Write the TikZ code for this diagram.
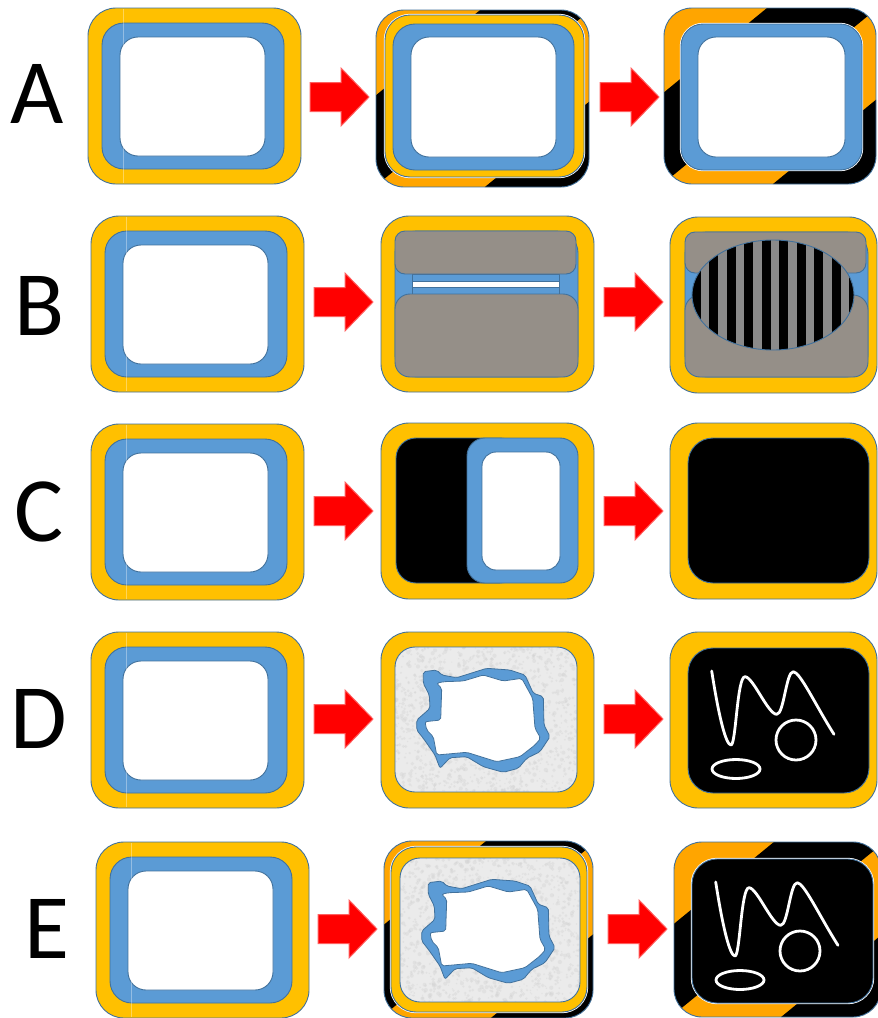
\documentclass[tikz,border=0pt]{standalone}
\usepackage{fontspec}
\setmainfont{Carlito}
\definecolor{yel}{HTML}{FFC000}
\definecolor{blu}{HTML}{5B9BD5}
\definecolor{outc}{HTML}{41719C}
\definecolor{orng}{HTML}{FFA500}
\definecolor{slab}{HTML}{958F88}
\definecolor{stripg}{HTML}{8A8A8A}
\definecolor{texg}{HTML}{EBEBEB}
\definecolor{arrr}{HTML}{FF0000}
\definecolor{arro}{HTML}{FF6060}
\tikzset{
  outl/.style={draw=outc, line width=0.9pt},
  ybox/.style={outl, fill=yel, rounded corners=28pt},
  bbox/.style={outl, fill=blu, rounded corners=22pt},
  wbox/.style={outl, fill=white, rounded corners=18pt},
  glow/.style={preaction={draw=white, line width=2.4pt}},
  seam/.style={draw=white, opacity=0.35, line width=0.8pt},
  slabst/.style={outl, fill=slab},
  arrst/.style={fill=arrr, draw=arro, line width=1pt},
  wline/.style={draw=white, line width=2.8pt, line cap=round, line join=round},
  letter/.style={font=\fontsize{92}{92}\selectfont, inner sep=0pt, anchor=center},
}
\newcommand\leftbox[2]{%
  \draw[ybox] (#1,#2) rectangle (#1+213,#2+176);
  \draw[bbox] (#1+14,#2+15) rectangle (#1+196,#2+161);
  \draw[wbox] (#1+32,#2+29) rectangle (#1+177,#2+148);
  \draw[seam] (#1+35,#2+1) -- (#1+35,#2+175);
}
\newcommand\rarrow[2]{%
  \filldraw[arrst] (#1,#2-14.5) -- (#1+31,#2-14.5) -- (#1+31,#2-29) -- (#1+59,#2)
    -- (#1+31,#2+29) -- (#1+31,#2+14.5) -- (#1,#2+14.5) -- cycle;
}
\newcommand\stripebox[4]{%
  \begin{scope}
    \clip[rounded corners=28pt] (#1,#2) rectangle (#3,#4);
    \fill[orng] (#1,#2) rectangle (#3,#4);
    \begin{scope}[shift={({(#1+#3)/2},{(#2+#4)/2})}, rotate=39.3]
      \fill[black] (-320,-70) rectangle (320,0);
      \fill[black] (-320,70) rectangle (320,140);
      \fill[black] (-320,-210) rectangle (320,-140);
    \end{scope}
  \end{scope}
  \draw[outl, rounded corners=28pt] (#1,#2) rectangle (#3,#4);
}
\newcommand\texbox[4]{%
  \begin{scope}
    \clip[rounded corners=20pt] (#1,#2) rectangle (#3,#4);
    \fill[texg] (#1,#2) rectangle (#3,#4);
    \foreach \i in {1,...,1400}{%
      \pgfmathsetmacro\px{#1+(#3-#1)*rnd}%
      \pgfmathsetmacro\py{#2+(#4-#2)*rnd}%
      \pgfmathsetmacro\pr{0.6+1.6*rnd}%
      \fill[black!18, opacity=0.35] (\px,\py) circle[radius=\pr pt];
    }
  \end{scope}
  \draw[outl, rounded corners=20pt] (#1,#2) rectangle (#3,#4);
}
\newcommand\blob[2]{%
  \begin{scope}[shift={(#1,#2)}]
    \filldraw[fill=blu, draw=outc, line width=0.8pt, rounded corners=2pt]
      (28.3,24.7) -- (41.7,23) -- (46.7,28) -- (61.7,30.7) -- (91.7,21.3) -- (115,23)
      -- (130,28) -- (138.3,46.3) -- (148.3,49.7) -- (149,78) -- (155,89.7) -- (145,104.7)
      -- (131.7,111.3) -- (123.3,121.3) -- (108.3,125.3) -- (88.3,119.7) -- (71.7,109.7)
      -- (55,110.7) -- (45,121.3) -- (40,108) -- (28.3,91.3) -- (21.7,83) -- (21.7,73)
      -- (28.3,67.3) -- (35,61.3) -- (34.3,48) -- (28.3,36.3) -- cycle;
    \filldraw[fill=white, draw=outc, line width=0.8pt, rounded corners=2pt]
      (41.7,36.3) -- (46.7,41.3) -- (45.7,73) -- (30,74.7) -- (31.7,83) -- (38.3,89.7)
      -- (41.7,108) -- (71.7,105.3) -- (101.7,114.7) -- (125,109.7) -- (140,98)
      -- (145.7,91.3) -- (140,81.3) -- (137.7,51.3) -- (126.7,31.3) -- (108.3,34)
      -- (88.3,28) -- (68.3,34) -- (48.3,34.7) -- cycle;
  \end{scope}
}
\newcommand\squig[2]{%
  \begin{scope}[shift={(#1,#2)}]
    \draw[wline] (23.7,23) .. controls (31,70) and (38,97) .. (43,97)
      .. controls (48,97) and (49,28.7) .. (57,28.7)
      .. controls (65,28.7) and (80,66.3) .. (88.7,66.3)
      .. controls (96,66.3) and (98,23.7) .. (105.3,23.7)
      .. controls (112,23.7) and (128,58) .. (146,86.3);
    \draw[wline] (108,92) circle[radius=20pt];
    \draw[wline] (48,121) ellipse[x radius=24pt, y radius=9.5pt];
  \end{scope}
}
\begin{document}
\begin{tikzpicture}[x=1pt, y=-1pt]
\useasboundingbox (0,0) rectangle (878,1018);
\pgfmathsetseed{7}

% letters
\node[letter] (la) at (37.5,94) {A};
\node[letter] (lb) at (40,306) {B};
\node[letter] (lc) at (39,512) {C};
\node[letter] (ld) at (39,719) {D};
\node[letter] (le) at (47,929) {E};

% ---------- Row A ----------
\leftbox{88}{8}
\rarrow{310}{97}
\stripebox{376}{10}{589}{187}
\draw[ybox, glow, rounded corners=25pt] (385,15) rectangle (584,177);
\draw[bbox] (393,24) rectangle (574,170);
\draw[wbox] (411,37) rectangle (556,157);
\rarrow{600}{97}
\stripebox{664}{8}{876}{184}
\draw[bbox, glow] (681,24) rectangle (862,170);
\draw[wbox] (698,37) rectangle (845,157);

% ---------- Row B ----------
\leftbox{91}{216}
\rarrow{314}{302}
\draw[ybox] (381,216) rectangle (594,392);
\draw[bbox] (395,231) rectangle (578,377);
\draw[outl, fill=blu] (412,274) rectangle (559,294);
\draw[outl, fill=white] (412,281) rectangle (559,287);
\draw[slabst, rounded corners=10pt] (395,231) rectangle (576,274);
\draw[slabst, rounded corners=15pt] (395,294) rectangle (578,377);
\rarrow{604}{302}
\draw[ybox] (670,217) rectangle (877,393);
\draw[bbox] (685,232) rectangle (868,377);
\draw[slabst, rounded corners=10pt] (685,232) rectangle (866,273);
\draw[slabst, rounded corners=15pt] (685,295) rectangle (868,377);
\begin{scope}
  \clip (773,295) ellipse[x radius=81pt, y radius=55pt];
  \fill[stripg] (690,238) rectangle (856,352);
  \foreach \k in {-6,...,5} \fill[black] ({761.5+17.5*\k},230) rectangle ++(9,130);
\end{scope}
\draw[outl] (773,295) ellipse[x radius=81pt, y radius=55pt];

% ---------- Row C ----------
\leftbox{91}{424}
\rarrow{314}{511}
\draw[ybox] (381,423) rectangle (594,599);
\draw[outl, fill=black, rounded corners=20pt] (396,438) rectangle (520,583);
\draw[bbox, rounded corners=18pt] (467,438) rectangle (578,583);
\draw[wbox, rounded corners=14pt] (482,452) rectangle (560,570);
\rarrow{604}{511}
\draw[ybox] (670,423) rectangle (877,599);
\draw[outl, fill=black, rounded corners=25pt] (688,438) rectangle (869,583);

% ---------- Row D ----------
\leftbox{91}{632}
\rarrow{314}{719}
\draw[ybox] (381,632) rectangle (594,808);
\texbox{395}{647}{577}{792}
\blob{395}{647}
\rarrow{604}{719}
\draw[ybox] (670,632) rectangle (877,808);
\draw[outl, fill=black, rounded corners=25pt] (688,648) rectangle (869,793);
\squig{688}{648}

% ---------- Row E ----------
\leftbox{96}{842}
\rarrow{318}{929}
\stripebox{384}{841}{593}{1018}
\draw[ybox, glow, rounded corners=25pt] (391,847) rectangle (587,1012);
\texbox{400}{858}{580}{1002}
\blob{400}{858}
\rarrow{608}{929}
\stripebox{674}{842}{881}{1017}
\draw[outl, glow, fill=black, rounded corners=25pt] (692,859) rectangle (873,1003);
\squig{692}{859}
\end{tikzpicture}
\end{document}
